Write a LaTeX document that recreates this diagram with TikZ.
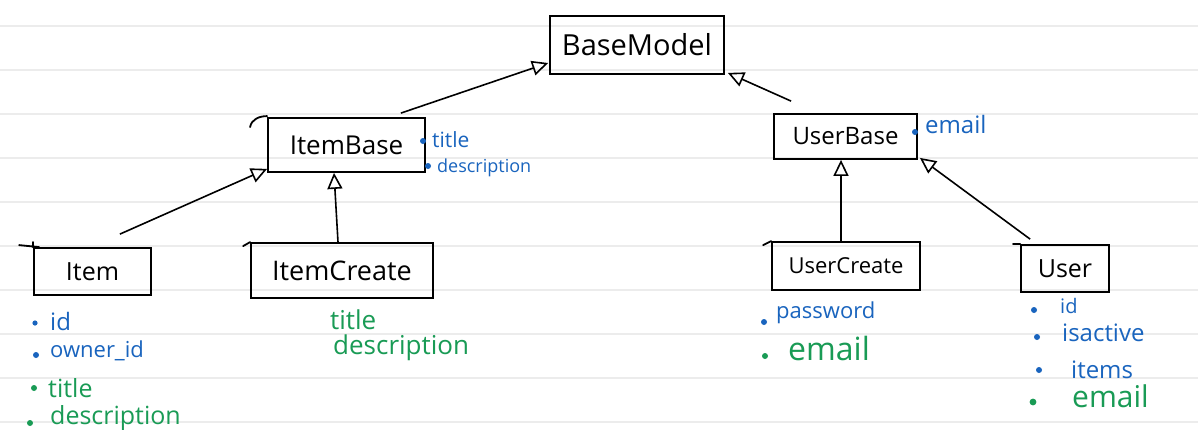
\documentclass[tikz,border=0pt]{standalone}
\usepackage{fontspec}
\setmainfont{Open Sans}
\usetikzlibrary{arrows.meta}
\definecolor{blueink}{RGB}{25,100,190}
\definecolor{greenink}{RGB}{25,155,85}
\definecolor{ruleline}{RGB}{236,236,236}
\newcommand\hwsize[1]{\fontsize{#1}{#1}\selectfont}
\begin{document}
\begin{tikzpicture}[x=1pt,y=-1pt,
  classbox/.style={draw=black, line width=1.8pt, inner sep=0pt},
  gen/.style={draw=black, line width=1.6pt, -{Triangle[open,length=16pt,width=15pt]}},
  hook/.style={draw=black, line width=1.8pt, line cap=round},
  lbl/.style={inner sep=0pt, anchor=base west},
  dotb/.style={fill=blueink},
  dotg/.style={fill=greenink}]
\fill[white] (0,0) rectangle (1198,445);
\useasboundingbox (0,0) rectangle (1198,445);
\foreach \y in {26,70,...,422} \draw[ruleline, line width=2.5pt] (0,\y) -- (1198,\y);

% class boxes
\node[classbox, minimum width=174pt, minimum height=58pt, font=\hwsize{29}] (BaseModel) at (637,45) {BaseModel};
\node[classbox, minimum width=157pt, minimum height=54pt, font=\hwsize{26}] (ItemBase) at (346.5,145) {ItemBase};
\node[classbox, minimum width=143pt, minimum height=45pt, font=\hwsize{24}] (UserBase) at (845.5,136.5) {UserBase};
\node[classbox, minimum width=117pt, minimum height=47pt, font=\hwsize{25}] (Item) at (92.5,271.5) {Item};
\node[classbox, minimum width=182pt, minimum height=55pt, font=\hwsize{27}] (ItemCreate) at (342,270.5) {ItemCreate};
\node[classbox, minimum width=148pt, minimum height=48pt, font=\hwsize{22}] (UserCreate) at (846,266) {UserCreate};
\node[classbox, minimum width=88pt, minimum height=47pt, font=\hwsize{25}] (User) at (1065,268.5) {User};

% pen flourishes at the box corners
\draw[hook] ([xshift=-17pt,yshift=-10pt]ItemBase.north west) to[out=80,in=180] ([yshift=1pt]ItemBase.north west);
\draw[hook] ([xshift=-14pt,yshift=2pt]Item.north west) -- ([xshift=6pt,yshift=0pt]Item.north west);
\draw[hook] ([yshift=5pt]Item.north west) -- (Item.north west);
\draw[hook] ([xshift=-7pt,yshift=-4pt]ItemCreate.north west) -- (ItemCreate.north west);
\draw[hook] ([xshift=-8pt,yshift=-4pt]UserCreate.north west) -- (UserCreate.north west);
\draw[hook] ([xshift=-7pt,yshift=0pt]User.north west) -- (User.north west);

% generalisation arrows
\draw[gen] ([xshift=-25pt,yshift=4pt]ItemBase.north east) -- ([xshift=-1pt,yshift=-18pt]BaseModel.west);
\draw[gen] ([xshift=18pt,yshift=12pt]UserBase.north west) -- ([xshift=3pt,yshift=2pt]BaseModel.south east);
\draw[gen] ([xshift=-32pt,yshift=13pt]Item.north east) -- ([yshift=4pt]ItemBase.south west);
\draw[gen] ([xshift=-4pt]ItemCreate.north) -- ([xshift=-8pt]ItemCreate.north |- ItemBase.south);
\draw[gen] ([xshift=-5pt]UserCreate.north) -- ([xshift=-5pt]UserCreate.north |- UserBase.south);
\draw[gen] ([xshift=10pt,yshift=5pt]User.north west) -- ([xshift=2pt,yshift=2pt]UserBase.south east);

% ItemBase fields
\fill[dotb] (423,141) circle (3pt);
\node[lbl, text=blueink, font=\hwsize{21}] (ibTitle) at (432,147) {title};
\fill[dotb] (428,166) circle (3pt);
\node[lbl, text=blueink, font=\hwsize{18}] (ibDesc) at (437,172) {description};

% UserBase fields
\fill[dotb] (915,132) circle (3pt);
\node[lbl, text=blueink, font=\hwsize{24}] (ubEmail) at (925,133) {email};

% Item fields
\fill[dotb] (35,323) circle (2.6pt);
\node[lbl, text=blueink, font=\hwsize{24}] (iId) at (50,330) {id};
\fill[dotb] (36,355) circle (3pt);
\node[lbl, text=blueink, font=\hwsize{22}] (iOwner) at (50,357) {owner\_id};
\fill[dotg] (34,388) circle (3pt);
\node[lbl, text=greenink, font=\hwsize{25}] (iTitle) at (48,397) {title};
\fill[dotg] (30,423) circle (3pt);
\node[lbl, text=greenink, font=\hwsize{25}] (iDesc) at (50,424) {description};

% ItemCreate fields
\node[lbl, text=greenink, font=\hwsize{26}] (icTitle) at (330,329) {title};
\node[lbl, text=greenink, font=\hwsize{26}] (icDesc) at (333,354) {description};

% UserCreate fields
\fill[dotb] (764,322) circle (3pt);
\node[lbl, text=blueink, font=\hwsize{22}] (ucPass) at (776,318) {password};
\fill[dotg] (765,356) circle (3pt);
\node[lbl, text=greenink, font=\hwsize{32}] (ucEmail) at (788,360) {email};

% User fields
\fill[dotb] (1034,310) circle (3pt);
\node[lbl, text=blueink, font=\hwsize{20}] (uId) at (1060,313) {id};
\fill[dotb] (1037,337) circle (3pt);
\node[lbl, text=blueink, font=\hwsize{24}] (uActive) at (1062,341) {isactive};
\fill[dotb] (1039,370) circle (3pt);
\node[lbl, text=blueink, font=\hwsize{24}] (uItems) at (1071,378) {items};
\fill[dotg] (1033,402) circle (3.4pt);
\node[lbl, text=greenink, font=\hwsize{30}] (uEmail) at (1072,407) {email};
\end{tikzpicture}
\end{document}
